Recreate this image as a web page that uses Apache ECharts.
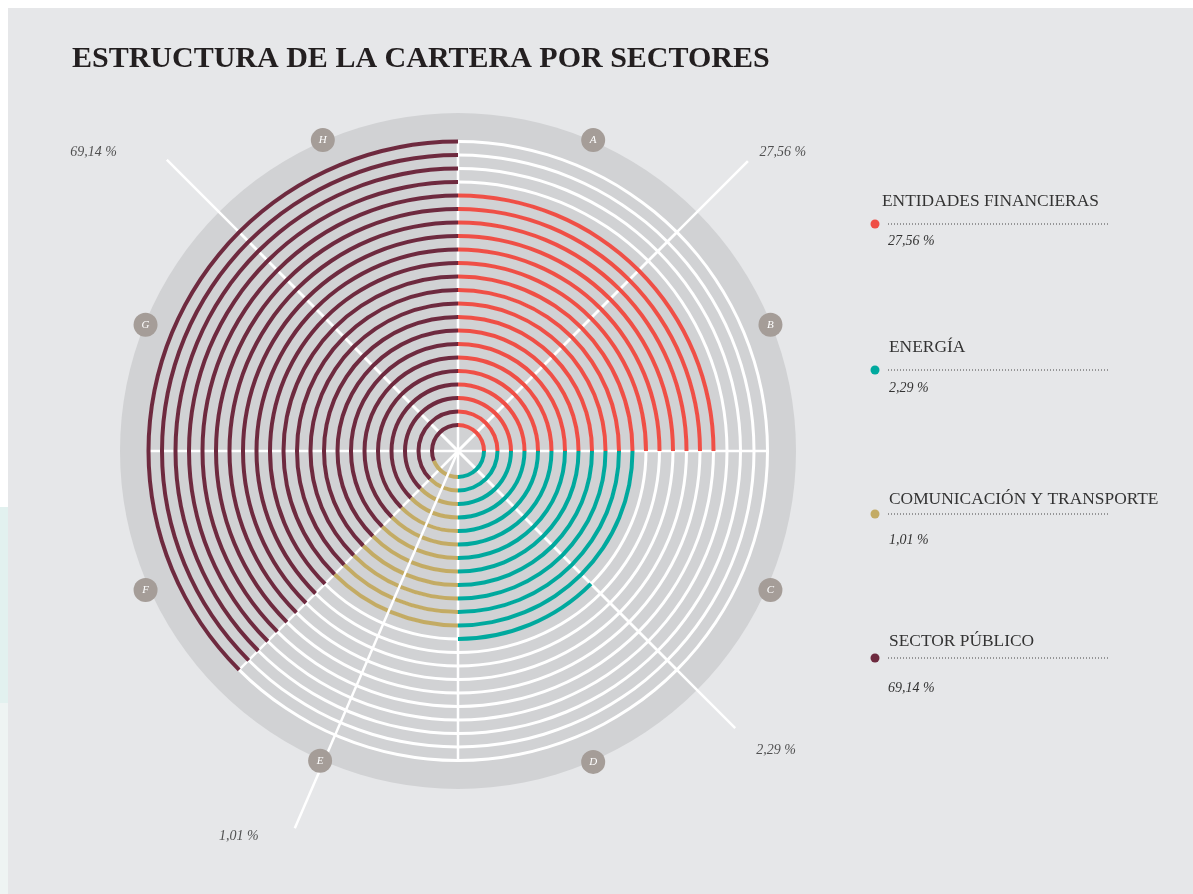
<!DOCTYPE html>
<html><head><meta charset="utf-8">
<script src="https://cdn.jsdelivr.net/npm/echarts@6/dist/echarts.min.js"></script>
<style>html,body{margin:0;padding:0;background:#fff}#c{width:1193px;height:894px}</style>
</head><body><div id="c"></div>
<script>
// ---------------- data ----------------
const title = 'ESTRUCTURA DE LA CARTERA POR SECTORES';
const sectors = ['ENTIDADES FINANCIERAS', 'ENERGÍA', 'COMUNICACIÓN Y TRANSPORTE', 'SECTOR PÚBLICO'];
const shares = ['27,56 %', '2,29 %', '1,01 %', '69,14 %'];
const letters = ['A', 'B', 'C', 'D', 'E', 'F', 'G', 'H'];
const letterAngles = [23.5, 68, 114, 156.5, 204, 246, 292, 336.5];
const letterRadii = [339, 337, 342, 339, 339, 342, 337, 339];
const ringNames = ['1','2','3','4','5','6','7','8','9','10','11','12','13','14','15','16','17','18','19','20','21','22'];
// arc spans per ring, degrees clockwise from 12 o'clock (null = no arc on that ring)
const redStart   = [0,0,0,0,0,0,0,0,0,0,0,0,0,0,0,0,0,0,null,null,null,null];
const redEnd     = [90,90,90,90,90,90,90,90,90,90,90,90,90,90,90,90,90,90,null,null,null,null];
const tealStart  = [90,90,90,90,90,90,90,90,90,90,90,90,135,null,null,null,null,null,null,null,null,null];
const tealEnd    = [180,180,180,180,180,180,180,180,180,180,180,180,180,null,null,null,null,null,null,null,null,null];
const goldStart  = [180,180,180,180,180,180,180,180,180,180,180,180,null,null,null,null,null,null,null,null,null,null];
const goldEnd    = [248,225,225,225,225,225,225,225,225,225,225,225,null,null,null,null,null,null,null,null,null,null];
const maroonStart= [248,225,225,225,225,225,225,225,225,225,225,225,225,225,225,225,225,225,225,225,225,225];
const maroonEnd  = [360,360,360,360,360,360,360,360,360,360,360,360,360,360,360,360,360,360,360,360,360,360];
const ringFull   = [360,360,360,360,360,360,360,360,360,360,360,360,360,360,360,360,360,360,360,360,360,360];
// pointer lines to the percentage labels: angle and length
const pointerAngles  = [45, 135, 203.4, 315];
const pointerLengths = [410, 392, 411, 412];

// ---------------- styles / layout ----------------
const colors = ['#ef4f46', '#00a99e', '#c3ab64', '#6e2a3f'];
const CX = 458, CY = 451;
const serif = '"Liberation Serif", "DejaVu Serif", serif';
const starts = [redStart, tealStart, goldStart, maroonStart];
const ends = [redEnd, tealEnd, goldEnd, maroonEnd];

// build stacked segments (transparent gap + coloured arc) per sector
const stackSeries = [];
const gaps = sectors.map(() => []), lens = sectors.map(() => []);
for (let k = 0; k < ringNames.length; k++) {
  let cur = 0;
  for (let i = 0; i < sectors.length; i++) {
    const s = starts[i][k], e = ends[i][k];
    if (s == null) { gaps[i].push(0); lens[i].push(0); }
    else { gaps[i].push(s - cur); lens[i].push(e - s); cur = e; }
  }
}
sectors.forEach((name, i) => {
  stackSeries.push({
    type: 'bar', coordinateSystem: 'polar', polarIndex: 1, stack: 'rings',
    data: gaps[i], barWidth: 4, silent: true, z: 4,
    itemStyle: { color: 'rgba(0,0,0,0)' }
  });
  stackSeries.push({
    type: 'bar', coordinateSystem: 'polar', polarIndex: 1, stack: 'rings', name: name,
    data: lens[i], barWidth: 4, silent: true, z: 4,
    itemStyle: { color: colors[i] }
  });
});

const pointerOffsets = [[35, -9], [41, 22], [-56, 8], [-73, -7]];
const pointerSeries = pointerAngles.map((a, i) => ({
  type: 'line', coordinateSystem: 'polar', polarIndex: 3, silent: true,
  data: [[0, a], [pointerLengths[i], a]], symbol: 'none',
  lineStyle: { color: '#ffffff', width: 2.5 }, z: i === 2 ? 6 : 3
}));
const pointerLabelSeries = {
  type: 'scatter', coordinateSystem: 'polar', polarIndex: 3, silent: true, z: 7,
  symbolSize: 1, itemStyle: { color: 'rgba(0,0,0,0)' },
  data: pointerAngles.map((a, i) => ({
    value: [pointerLengths[i], a],
    label: { show: true, position: 'inside', offset: pointerOffsets[i], formatter: shares[i],
      fontFamily: serif, fontStyle: 'italic', fontSize: 14, color: '#2b2b2b' }
  }))
};
const letterSeries = {
  type: 'scatter', coordinateSystem: 'polar', polarIndex: 3, silent: true, z: 8,
  symbolSize: 24, itemStyle: { color: '#a59d98', opacity: 1 },
  data: letterAngles.map((a, i) => ({ value: [letterRadii[i], a], name: letters[i] })),
  label: { show: true, position: 'inside', formatter: p => p.name,
    fontFamily: serif, fontStyle: 'italic', fontSize: 11, color: '#ffffff' }
};

const hidden = { axisLine: { show: false }, axisTick: { show: false }, axisLabel: { show: false }, splitLine: { show: false } };
const ringRadius = ['19.25', '316.25'];

// legend graphics
const legendNameY = [201, 347, 499, 641], legendNameX = [882, 889, 889, 889];
const legendLineY = [224, 370, 514, 658];
const legendValY = [241, 388, 540, 688], legendValX = [888, 889, 889, 888];
const graphics = [
  { type: 'rect', shape: { x: 0, y: 0, width: 1193, height: 8 }, style: { fill: '#ffffff' }, silent: true },
  { type: 'rect', shape: { x: 0, y: 0, width: 8, height: 507 }, style: { fill: '#ffffff' }, silent: true },
  { type: 'rect', shape: { x: 0, y: 507, width: 8, height: 196 }, style: { fill: '#e2f1ef' }, silent: true },
  { type: 'rect', shape: { x: 0, y: 703, width: 8, height: 191 }, style: { fill: '#eef4f3' }, silent: true },
  { type: 'text', x: 72, y: 59, silent: true,
    style: { text: title, font: 'bold 30px ' + serif, fill: '#231f20', align: 'left', verticalAlign: 'middle' } }
];
sectors.forEach((name, i) => {
  graphics.push({ type: 'text', x: legendNameX[i], y: legendNameY[i], silent: true,
    style: { text: name, font: '17.4px ' + serif, fill: '#333333', align: 'left', verticalAlign: 'middle' } });
  graphics.push({ type: 'circle', shape: { cx: 875, cy: legendLineY[i], r: 4.5 }, style: { fill: colors[i] }, silent: true });
  graphics.push({ type: 'line', shape: { x1: 888, y1: legendLineY[i], x2: 1108, y2: legendLineY[i] },
    style: { stroke: '#444444', lineWidth: 1, lineDash: [1, 2] }, silent: true });
  graphics.push({ type: 'text', x: legendValX[i], y: legendValY[i], silent: true,
    style: { text: shares[i], font: 'italic 14px ' + serif, fill: '#333333', align: 'left', verticalAlign: 'middle' } });
});

const chart = echarts.init(document.getElementById('c'), null, { renderer: 'canvas' });
chart.setOption({
  animation: false,
  backgroundColor: '#e6e7e9',
  graphic: graphics,
  polar: [
    { center: [CX, CY], radius: ringRadius },
    { center: [CX, CY], radius: ringRadius },
    { center: [CX, CY], radius: [0, 310] },
    { center: [CX, CY], radius: [0, 412] }
  ],
  angleAxis: [
    Object.assign({ polarIndex: 0, type: 'value', min: 0, max: 360, startAngle: 90, clockwise: true }, hidden),
    Object.assign({ polarIndex: 1, type: 'value', min: 0, max: 360, startAngle: 90, clockwise: true }, hidden),
    { polarIndex: 2, type: 'value', min: 0, max: 360, interval: 45, startAngle: 90, clockwise: true, z: 1,
      axisLine: { show: false }, axisTick: { show: false }, axisLabel: { show: false },
      splitLine: { show: true, lineStyle: { color: '#ffffff', width: 2.5 } } },
    Object.assign({ polarIndex: 3, type: 'value', min: 0, max: 360, startAngle: 90, clockwise: true }, hidden)
  ],
  radiusAxis: [
    Object.assign({ polarIndex: 0, type: 'category', data: ringNames }, hidden),
    Object.assign({ polarIndex: 1, type: 'category', data: ringNames }, hidden),
    Object.assign({ polarIndex: 2, type: 'value', min: 0, max: 1 }, hidden),
    Object.assign({ polarIndex: 3, type: 'value', min: 0, max: 412 }, hidden)
  ],
  series: [
    { type: 'pie', center: [CX, CY], radius: [0, 338], silent: true, z: 0, label: { show: false },
      labelLine: { show: false }, data: [{ value: 1, name: 'disc' }], itemStyle: { color: '#d1d2d4' } },
    { type: 'bar', coordinateSystem: 'polar', polarIndex: 0, data: ringFull, barWidth: 3, silent: true, z: 2,
      itemStyle: { color: '#ffffff' } },
    ...pointerSeries,
    ...stackSeries,
    pointerLabelSeries,
    letterSeries
  ]
});
</script></body></html>
